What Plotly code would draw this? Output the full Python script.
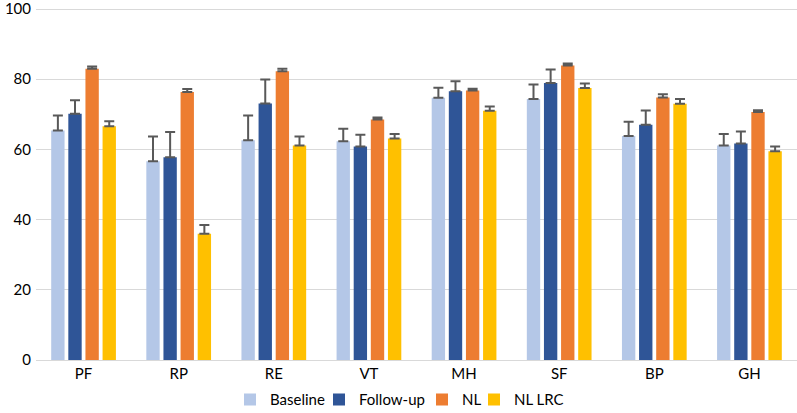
import plotly.graph_objects as go

categories = ["PF", "RP", "RE", "VT", "MH", "SF", "BP", "GH"]
series_names = ["Baseline", "Follow-up", "NL", "NL LRC"]
baseline = [65.4, 56.6, 62.6, 62.3, 74.7, 74.4, 63.8, 61.1]
followup = [70.2, 57.8, 73.1, 60.8, 76.6, 78.9, 67.0, 61.7]
nl = [83.0, 76.4, 82.3, 68.5, 76.8, 83.9, 74.8, 70.7]
nl_lrc = [66.6, 36.0, 61.1, 63.1, 71.0, 77.5, 73.0, 59.5]
baseline_err = [4.3, 7.1, 7.1, 3.6, 2.9, 4.1, 4.1, 3.3]
followup_err = [3.8, 7.2, 6.8, 3.4, 2.8, 3.9, 4.1, 3.4]
nl_err = [0.6, 0.8, 0.7, 0.6, 0.5, 0.6, 0.9, 0.5]
nl_lrc_err = [1.4, 2.5, 2.6, 1.3, 1.2, 1.3, 1.4, 1.3]
y_ticks = [0, 20, 40, 60, 80, 100]

colors = ["#B4C7E7", "#2F5597", "#ED7D31", "#FFC000"]
legend_widths = [44, 58, 7, 60]
values = [baseline, followup, nl, nl_lrc]
errors = [baseline_err, followup_err, nl_err, nl_lrc_err]

FONT = "Lato"

fig = go.Figure()
for name, vals, errs, col, lw in zip(series_names, values, errors, colors, legend_widths):
    fig.add_trace(go.Bar(
        x=categories, y=vals, name=name,
        marker=dict(color=col, line=dict(width=0)),
        error_y=dict(type="data", array=errs, arrayminus=[0] * len(errs),
                     symmetric=False, color="#595959", thickness=2, width=5),
        legendwidth=lw,
    ))

fig.update_layout(
    width=797, height=413,
    barmode="group", bargap=0.28, bargroupgap=0.22,
    plot_bgcolor="white", paper_bgcolor="white",
    margin=dict(l=36, r=0, t=8, b=53, autoexpand=False),
    font=dict(family=FONT, size=15, color="#000000"),
    xaxis=dict(showgrid=False, showline=True, linecolor="#D9D9D9", linewidth=1,
               ticks="", tickfont=dict(size=15)),
    yaxis=dict(range=[0, 100.3], tickvals=y_ticks, showgrid=True,
               gridcolor="#D9D9D9", gridwidth=1, zeroline=False,
               showline=False, ticks="", tickfont=dict(size=15),
               ticklabelstandoff=4, ticklabeloverflow="allow"),
    legend=dict(orientation="h", x=230 / 797, xanchor="left", xref="container",
                y=0.032, yanchor="middle", yref="container",
                font=dict(size=15), traceorder="normal"),
    showlegend=True,
)

fig.write_html(
    "out.html",
    config={"displayModeBar": False},
    post_script="document.body.style.margin='0';document.body.style.overflow='hidden';",
)
